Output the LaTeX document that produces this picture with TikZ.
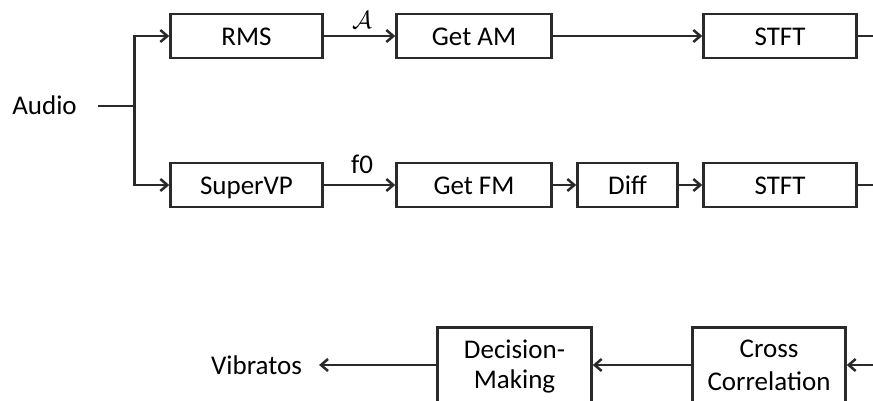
\documentclass[tikz,border=0pt]{standalone}
\usepackage{fontspec}
\setmainfont{Carlito}
\usetikzlibrary{arrows.meta}
\definecolor{ln}{HTML}{2A2A2A}
\definecolor{tx}{HTML}{000000}
\begin{document}
\begin{tikzpicture}[x=1pt,y=-1pt,
  font=\fontsize{27}{32}\selectfont, text=tx,
  box/.style={draw=ln,line width=2.5pt,minimum height=44pt,inner sep=0pt,text height=20pt,text depth=2pt},
  tallbox/.style={draw=ln,line width=2.5pt,minimum height=102pt,inner sep=0pt},
  conn/.style={draw=ln,line width=2.5pt,-{Straight Barb[length=7pt,width=12pt]}},
  plain/.style={draw=ln,line width=2.5pt},
  lbl/.style={inner sep=0pt,anchor=base}]
\useasboundingbox (0,0) rectangle (873,400);
\clip (0,0) rectangle (873,400);
% top row
\node[box,minimum width=152pt] (rms) at (246.5,36) {RMS};
\node[box,minimum width=155pt] (gam) at (474,36) {Get AM};
\node[box,minimum width=153pt] (stfta) at (780,36) {STFT};
% bottom row
\node[box,minimum width=152pt] (svp) at (246.5,185) {SuperVP};
\node[box,minimum width=155pt] (gfm) at (474,185) {Get FM};
\node[box,minimum width=100pt] (diff) at (627.5,185) {Diff};
\node[box,minimum width=153pt] (stftf) at (780,185) {STFT};
% audio input
\node[lbl,inner xsep=21pt] (audio) at (44.5,114) {Audio};
\coordinate (split) at (134.5,106);
\draw[plain] (audio.east |- split) -- (split);
\draw[conn] (split) |- (rms.west);
\draw[conn] (split) |- (svp.west);
% labels
\node[inner sep=0pt] (alab) at (362,20) {\fontsize{25}{28}\selectfont$\mathcal{A}$};
\node[lbl] (flab) at (362,173) {f0};
% connectors
\draw[conn] (rms) -- (gam);
\draw[conn] (gam) -- (stfta);
\draw[conn] (svp) -- (gfm);
\draw[conn] (gfm) -- (diff);
\draw[conn] (diff) -- (stftf);
\coordinate (ea) at (880,36);
\coordinate (ef) at (880,185);
\draw[plain] (stfta.east) -- (ea);
\draw[plain] (stftf.east) -- (ef);
% lower part
\node[tallbox,minimum width=154pt] (dm) at (514.5,378.5) {};
\node[tallbox,minimum width=153pt] (cc) at (769,378.5) {};
\node[lbl] (dmt1) at (514.5,358) {Decision-};
\node[lbl] (dmt2) at (514.5,388.5) {Making};
\node[lbl] (cct1) at (769,357.5) {Cross};
\node[lbl] (cct2) at (769,390) {Correlation};
\node[lbl,inner xsep=17pt] (vib) at (256.5,374) {Vibratos};
\coordinate (eb) at (880,365);
\draw[conn] (eb) -- (cc.east |- eb);
\draw[conn] (cc.west |- eb) -- (dm.east |- eb);
\draw[conn] (dm.west |- eb) -- (vib.east |- eb);
\end{tikzpicture}
\end{document}
